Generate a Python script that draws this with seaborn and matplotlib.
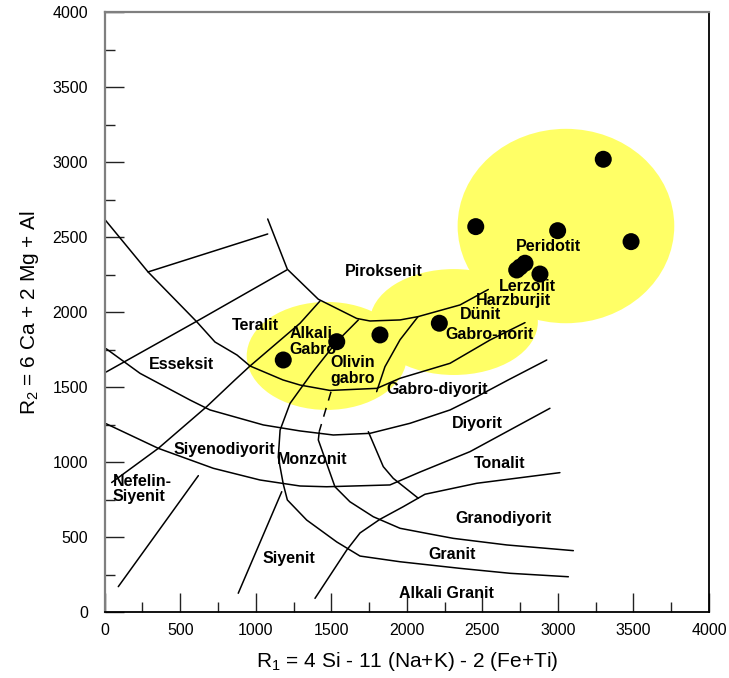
import matplotlib
matplotlib.use("Agg")
import matplotlib.pyplot as plt
from matplotlib.patches import Ellipse
from matplotlib.ticker import MultipleLocator
import seaborn as sns
import pandas as pd

sns.set_theme(style="white")
plt.rcParams["font.family"] = ["Liberation Sans", "DejaVu Sans"]
plt.rcParams["mathtext.fontset"] = "custom"
plt.rcParams["mathtext.rm"] = "Liberation Sans"
plt.rcParams["mathtext.it"] = "Liberation Sans"
plt.rcParams["text.color"] = "black"
plt.rcParams["axes.labelcolor"] = "black"
plt.rcParams["xtick.color"] = "black"
plt.rcParams["ytick.color"] = "black"

# Sample points (R1, R2)
r1_values = [3300, 2456, 2998, 3484, 2727, 2750, 2782, 2881, 2215, 1822, 1536, 1182]
r2_values = [3020, 2571, 2544, 2471, 2282, 2302, 2327, 2255, 1927, 1849, 1804, 1682]

# Highlighted sample fields: centre x, centre y, width, height
field_cx = [1470, 2311, 3053]
field_cy = [1709, 1935, 2575]
field_w = [1060, 1112, 1434]
field_h = [720, 706, 1296]

# De la Roche R1-R2 classification boundaries
bound_a_x = [0, 287, 611, 730, 876, 962, 1180, 1293, 1491, 1802, 1955, 2286, 2550, 2782]
bound_a_y = [2620, 2269, 1935, 1802, 1715, 1642, 1549, 1515, 1479, 1493, 1560, 1660, 1815, 1931]
bound_b_x = [10, 609, 1205]
bound_b_y = [1602, 1940, 2282]
bound_c_x = [287, 1079]
bound_c_y = [2269, 2522]
bound_d_x = [1079, 1209, 1414, 1668, 1756, 1955, 2074, 2352, 2539]
bound_d_y = [2622, 2287, 2087, 1959, 1942, 1949, 1971, 2049, 2152]
bound_e_x = [46, 355, 675, 862, 962, 1293, 1425]
bound_e_y = [865, 1093, 1371, 1549, 1642, 1927, 2075]
bound_f_x = [1679, 1536, 1370, 1227, 1161, 1149, 1182, 1209, 1337, 1536, 1690, 1955, 2352, 2683, 3069]
bound_f_y = [1949, 1804, 1593, 1393, 1215, 1035, 855, 749, 615, 469, 375, 337, 293, 260, 237]
bound_g_x = [2074, 1955, 1855, 1800]
bound_g_y = [1971, 1817, 1637, 1471]
bound_h_dash_x = [1498, 1420]
bound_h_dash_y = [1470, 1205]
bound_h_x = [1420, 1414, 1469, 1524, 1623, 1778, 1955, 2153, 2307, 2661, 3102]
bound_h_y = [1202, 1149, 993, 837, 737, 637, 560, 522, 493, 449, 411]
bound_i1_x = [10, 234, 565, 697, 1050, 1293, 1513, 1756, 2021, 2286, 2462, 2671, 2926]
bound_i1_y = [1757, 1593, 1415, 1349, 1249, 1209, 1182, 1193, 1260, 1349, 1437, 1549, 1682]
bound_i2_x = [10, 355, 719, 1028, 1293, 1469, 1888, 2087, 2418, 2947]
bound_i2_y = [1257, 1093, 960, 882, 842, 837, 849, 935, 1071, 1360]
bound_j_x = [1745, 1844, 1910, 2076]
bound_j_y = [1204, 971, 893, 760]
bound_k_x = [1392, 1602, 1690, 1822, 1976, 2120, 2462, 3013]
bound_k_y = [93, 415, 529, 620, 704, 787, 860, 931]
bound_l_x = [90, 620]
bound_l_y = [171, 911]
bound_m_x = [884, 1172]
bound_m_y = [127, 804]

# Rock names: text, x, y, horizontal alignment
rock_names = ["Piroksenit", "Teralit", "Alkali\nGabro", "Olivin\ngabro", "Esseksit",
              "Gabro-diyorit", "Peridotit", "Lerzolit", "Harzburjit", "Dünit",
              "Gabro-norit", "Diyorit", "Tonalit", "Granodiyorit", "Granit",
              "Alkali Granit", "Siyenodiyorit", "Monzonit", "Nefelin-\nSiyenit", "Siyenit"]
name_x = [1846, 999, 1222, 1497, 508, 2202, 2936, 2799, 2704, 2488,
          2547, 2467, 2616, 2639, 2296, 2260, 789, 1372, 55, 1220]
name_y = [2272, 1915, 1804, 1610, 1649, 1482, 2437, 2171, 2077, 1982,
          1849, 1257, 995, 627, 384, 124, 1082, 1021, 822, 360]
name_ha = ["center", "center", "left", "left", "center",
           "center", "center", "center", "center", "center",
           "center", "center", "center", "center", "center",
           "center", "center", "center", "left", "center"]

fig = plt.figure(figsize=(7.29, 6.78), dpi=100)
ax = fig.add_axes([0.1436, 0.0969, 0.8290, 0.8850])

for cx, cy, w, h in zip(field_cx, field_cy, field_w, field_h):
    ax.add_patch(Ellipse((cx, cy), w, h, facecolor="#FFFF66", edgecolor="none", zorder=0))

solid_bounds = [
    (bound_a_x, bound_a_y), (bound_b_x, bound_b_y), (bound_c_x, bound_c_y),
    (bound_d_x, bound_d_y), (bound_e_x, bound_e_y), (bound_f_x, bound_f_y),
    (bound_g_x, bound_g_y), (bound_h_x, bound_h_y), (bound_i1_x, bound_i1_y),
    (bound_i2_x, bound_i2_y), (bound_j_x, bound_j_y), (bound_k_x, bound_k_y),
    (bound_l_x, bound_l_y), (bound_m_x, bound_m_y),
]
for bx, by in solid_bounds:
    sns.lineplot(x=bx, y=by, sort=False, estimator=None, color="black",
                 linewidth=1.1, ax=ax, zorder=2)
sns.lineplot(x=bound_h_dash_x, y=bound_h_dash_y, sort=False, estimator=None,
             color="black", linewidth=1.1, ax=ax, zorder=2, dashes=False)
ax.lines[-1].set_linestyle((0, (6, 5)))

samples = pd.DataFrame({"R1": r1_values, "R2": r2_values})
sns.scatterplot(data=samples, x="R1", y="R2", s=150, color="black",
                edgecolor="none", ax=ax, zorder=4)

for name, x, y, ha in zip(rock_names, name_x, name_y, name_ha):
    ax.text(x, y, name, ha=ha, va="center", fontsize=11.5, fontweight="bold",
            color="black", linespacing=1.05, zorder=5)

ax.set_xlim(0, 4000)
ax.set_ylim(0, 4000)
ax.xaxis.set_major_locator(MultipleLocator(500))
ax.yaxis.set_major_locator(MultipleLocator(500))
ax.xaxis.set_minor_locator(MultipleLocator(250))
ax.yaxis.set_minor_locator(MultipleLocator(250))
ax.tick_params(which="major", direction="in", length=14, width=1, color="#222222",
               labelsize=11.5, labelcolor="black", top=False, right=False,
               left=True, bottom=True)
ax.tick_params(which="minor", direction="in", length=7, width=1, color="#222222",
               top=False, right=False, left=True, bottom=True)
ax.tick_params(axis="x", which="major", pad=8)
ax.tick_params(axis="y", which="major", pad=12)

for side in ["left", "top"]:
    ax.spines[side].set_color("#7f7f7f")
    ax.spines[side].set_linewidth(1.6)
for side in ["right", "bottom"]:
    ax.spines[side].set_color("black")
    ax.spines[side].set_linewidth(1.3)

ax.set_xlabel(r"R$_{1}$ = 4 Si - 11 (Na+K) - 2 (Fe+Ti)", fontsize=15, labelpad=8,
              color="black")
ax.set_ylabel(r"R$_{2}$ = 6 Ca + 2 Mg + Al", fontsize=15, labelpad=8, color="black")

fig.savefig("out.png", dpi=100)
